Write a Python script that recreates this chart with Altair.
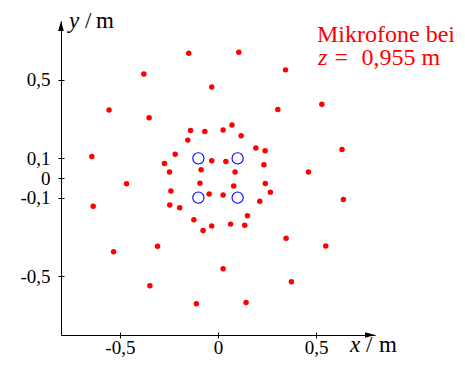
import altair as alt
import pandas as pd

# Microphone positions (m)
mic_x = [-0.149, 0.106, -0.378, 0.344, -0.555, 0.529, -0.643, 0.632, -0.636, 0.639,
         -0.532, 0.549, -0.347, 0.374, -0.110, 0.143,
         -0.032, -0.351, 0.305, -0.466, 0.461, -0.308, 0.347, 0.026,
         -0.140, -0.067, 0.026, 0.071, 0.118, -0.154, 0.193, 0.240, -0.218, -0.273,
         -0.032, 0.040, 0.234, -0.086, 0.087, -0.247, 0.241, 0.267, -0.092, 0.080,
         -0.240, -0.045, 0.026, 0.213, -0.246, -0.195, 0.150, -0.123, -0.032, 0.064,
         0.136, -0.076]
mic_y = [0.636, 0.641, 0.530, 0.551, 0.346, 0.376, 0.110, 0.145, -0.144, -0.109,
         -0.376, -0.346, -0.549, -0.529, -0.641, -0.634,
         0.464, 0.307, 0.349, -0.029, 0.031, -0.348, -0.307, -0.462,
         0.242, 0.237, 0.245, 0.270, 0.215, 0.193, 0.153, 0.139, 0.121, 0.074,
         0.088, 0.084, 0.068, 0.042, 0.031, 0.031, -0.028, -0.072, -0.027, -0.041,
         -0.066, -0.082, -0.087, -0.119, -0.137, -0.152, -0.192, -0.213, -0.244, -0.235,
         -0.241, -0.268]

# Reference points (blue open circles)
ref_x = [-0.1, 0.1, -0.1, 0.1]
ref_y = [0.1, 0.1, -0.1, -0.1]

x_ticks = [-0.5, 0, 0.5]
y_ticks = [-0.5, -0.1, 0, 0.1, 0.5]
axis_min, axis_max = -0.8, 0.8

legend_line1 = "Mikrofone bei"
legend_z = "z"
legend_eq = "="
legend_val = "0,955 m"

FONT = "Liberation Serif"
RED = "#ff0000"
BLUE = "#0000ff"

mics = pd.DataFrame({"x": mic_x, "y": mic_y})
refs = pd.DataFrame({"x": ref_x, "y": ref_y})

label_expr = ("datum.value == 0 ? '0' : (datum.value < 0 ? '-' : '') + "
              "replace(format(abs(datum.value), '.1f'), '.', ',')")

xscale = alt.Scale(domain=[axis_min, axis_max], nice=False, zero=False)
yscale = alt.Scale(domain=[axis_min, axis_max], nice=False, zero=False)

common_axis = dict(grid=False, title=None, domainColor="black", domainWidth=1,
                   tickColor="black", tickWidth=1, tickSize=3,
                   labelFont=FONT, labelFontSize=19, labelColor="black")

x_axis_main = alt.Axis(orient="bottom", values=x_ticks, labelExpr=label_expr,
                       labelBaseline="alphabetic", labelPadding=15, **common_axis)
y_axis_main = alt.Axis(orient="left", values=y_ticks, labelExpr=label_expr,
                       labelPadding=8, **common_axis)
x_axis_in = alt.Axis(orient="bottom", values=x_ticks, offset=-3, domain=False,
                     labels=False, grid=False, title=None, tickColor="black",
                     tickWidth=1, tickSize=3)
y_axis_in = alt.Axis(orient="left", values=y_ticks, offset=-3, domain=False,
                     labels=False, grid=False, title=None, tickColor="black",
                     tickWidth=1, tickSize=3)

mic_layer = alt.Chart(mics).mark_circle(size=30, color=RED, opacity=1).encode(
    x=alt.X("x:Q", scale=xscale, axis=x_axis_main),
    y=alt.Y("y:Q", scale=yscale, axis=y_axis_main),
)

ref_layer = alt.Chart(refs).mark_point(shape="circle", filled=False, size=125,
                                       color=BLUE, strokeWidth=1.1, opacity=1).encode(
    x=alt.X("x:Q", scale=xscale, axis=x_axis_in),
    y=alt.Y("y:Q", scale=yscale, axis=y_axis_in),
)

one = pd.DataFrame({"a": [0]})

x_arrow = alt.Chart(one).mark_point(shape="M0,0L-1,-0.28L-1,0.28Z", size=400,
                                    filled=True, color="black", opacity=1,
                                    strokeWidth=0).encode(
    x=alt.datum(axis_max, scale=xscale, axis=None),
    y=alt.datum(axis_min, scale=yscale, axis=None),
)
y_arrow = alt.Chart(one).mark_point(shape="M0,0L-0.28,1L0.28,1Z", size=400,
                                    filled=True, color="black", opacity=1,
                                    strokeWidth=0).encode(
    x=alt.datum(axis_min, scale=xscale, axis=None),
    y=alt.datum(axis_max, scale=yscale, axis=None),
)


def txt(t, px, py, size, color="black", italic=False):
    kw = dict(text=t, font=FONT, fontSize=size, color=color, align="left",
              baseline="alphabetic")
    if italic:
        kw["fontStyle"] = "italic"
    return alt.Chart(one).mark_text(**kw).encode(x=alt.value(px), y=alt.value(py))


texts = [
    txt("y", 8, 7, 23, italic=True),
    txt("/", 24, 7, 23),
    txt("m", 35, 7, 23),
    txt("x", 289, 331, 23, italic=True),
    txt("/", 305, 331, 23),
    txt("m", 318, 331, 23),
    txt(legend_line1, 256, 20.5, 24, RED),
    txt(legend_z, 257, 43.5, 24, RED, italic=True),
    txt(legend_eq, 273.5, 43.5, 24, RED),
    txt(legend_val, 300.5, 43.5, 24, RED),
]

chart = alt.layer(mic_layer, ref_layer, x_arrow, y_arrow, *texts).resolve_axis(
    x="independent", y="independent"
).properties(
    width=314, height=314,
    autosize=alt.AutoSizeParams(type="none"),
    padding={"left": 53, "top": 13, "right": 82, "bottom": 22},
    background="white",
).configure_view(stroke=None)

chart.save("out.html", embed_options={"renderer": "svg", "actions": False})
